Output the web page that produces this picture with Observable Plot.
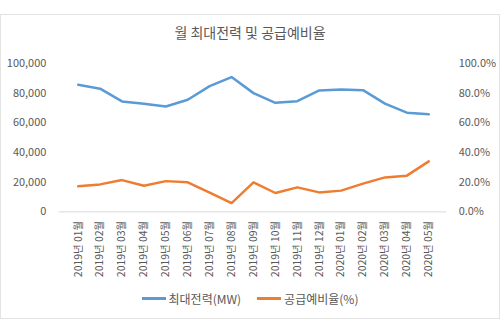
<!DOCTYPE html>
<html>
<head>
<meta charset="utf-8">
<script src="https://cdn.jsdelivr.net/npm/d3@7"></script>
<script src="https://cdn.jsdelivr.net/npm/@observablehq/plot@0.6"></script>
<style>
  html, body { margin: 0; padding: 0; background: #fff; }
  body { width: 500px; height: 333px; position: relative; overflow: hidden;
         font-family: "Noto Sans CJK KR", "Noto Sans", sans-serif; color: #595959; }
  #box { position: absolute; left: 0; top: 14px; width: 500px; height: 305px;
         box-sizing: border-box; border: 1px solid #e3e3e3; }
  #title { height: 35px; line-height: 35px; text-align: center; font-size: 14px; color: #595959; }
  #chart svg { display: block; }
  #legend { display: flex; justify-content: center; align-items: center; height: 22px;
            font-size: 12px; color: #595959; gap: 16px; }
  .item { display: flex; align-items: center; }
  .sw { width: 24px; height: 3px; margin-right: 3px; }
</style>
</head>
<body>
<div id="box">
  <div id="title">월 최대전력 및 공급예비율</div>
  <div id="chart"></div>
  <div id="legend"></div>
</div>
<script>
const months = ["2019년 01월","2019년 02월","2019년 03월","2019년 04월","2019년 05월","2019년 06월",
  "2019년 07월","2019년 08월","2019년 09월","2019년 10월","2019년 11월","2019년 12월",
  "2020년 01월","2020년 02월","2020년 03월","2020년 04월","2020년 05월"];
const peakPower = [85600, 83000, 74400, 72900, 71000, 75500, 84700, 90800, 80000, 73500, 74600,
  81800, 82500, 82000, 72900, 66800, 65700];
const reserveRate = [17.2, 18.5, 21.4, 17.6, 20.7, 19.9, 12.9, 5.9, 19.9, 12.7, 16.5, 13.1, 14.3,
  19.0, 23.2, 24.4, 34.0];
const leftTicks = [0, 20000, 40000, 60000, 80000, 100000];
const rightTicks = [0, 20, 40, 60, 80, 100];
const seriesNames = ["최대전력(MW)", "공급예비율(%)"];
const colors = ["#5b9bd5", "#ed7d31"];

const powerData = months.map((m, i) => ({month: m, value: peakPower[i]}));
// percent series drawn on the same y scale (100% ↔ 100,000)
const rateData = months.map((m, i) => ({month: m, value: reserveRate[i] * 1000}));

const chart = Plot.plot({
  width: 500,
  height: 238,
  marginTop: 13,
  marginBottom: 76,
  marginLeft: 58,
  marginRight: 53,
  style: {fontFamily: '"Noto Sans CJK KR", "Noto Sans", sans-serif', fontSize: "11px", color: "#595959", background: "transparent"},
  x: {type: "point", domain: months, padding: 0.5, label: null},
  y: {domain: [0, 100000], label: null},
  marks: [
    Plot.axisX({tickRotate: -90, tickSize: 0, tickPadding: 9, fontSize: 10.5, label: null}),
    Plot.axisY({ticks: leftTicks, tickSize: 0, tickPadding: 13, tickFormat: d => d3.format(",")(d), label: null}),
    Plot.axisY({anchor: "right", ticks: rightTicks.map(d => d * 1000), tickSize: 0, tickPadding: 12,
      tickFormat: d => (d / 1000).toFixed(1) + "%", textAnchor: "start", label: null}),
    Plot.ruleY([0], {stroke: "#d9d9d9", strokeWidth: 1}),
    Plot.line(powerData, {x: "month", y: "value", stroke: colors[0], strokeWidth: 2.5, strokeLinejoin: "round"}),
    Plot.line(rateData, {x: "month", y: "value", stroke: colors[1], strokeWidth: 2.5, strokeLinejoin: "round"})
  ]
});
document.getElementById("chart").appendChild(chart);

const legend = document.getElementById("legend");
seriesNames.forEach((name, i) => {
  const it = document.createElement("div");
  it.className = "item";
  const sw = document.createElement("div");
  sw.className = "sw";
  sw.style.background = colors[i];
  const t = document.createElement("span");
  t.textContent = name;
  it.appendChild(sw); it.appendChild(t);
  legend.appendChild(it);
});
</script>
</body>
</html>
